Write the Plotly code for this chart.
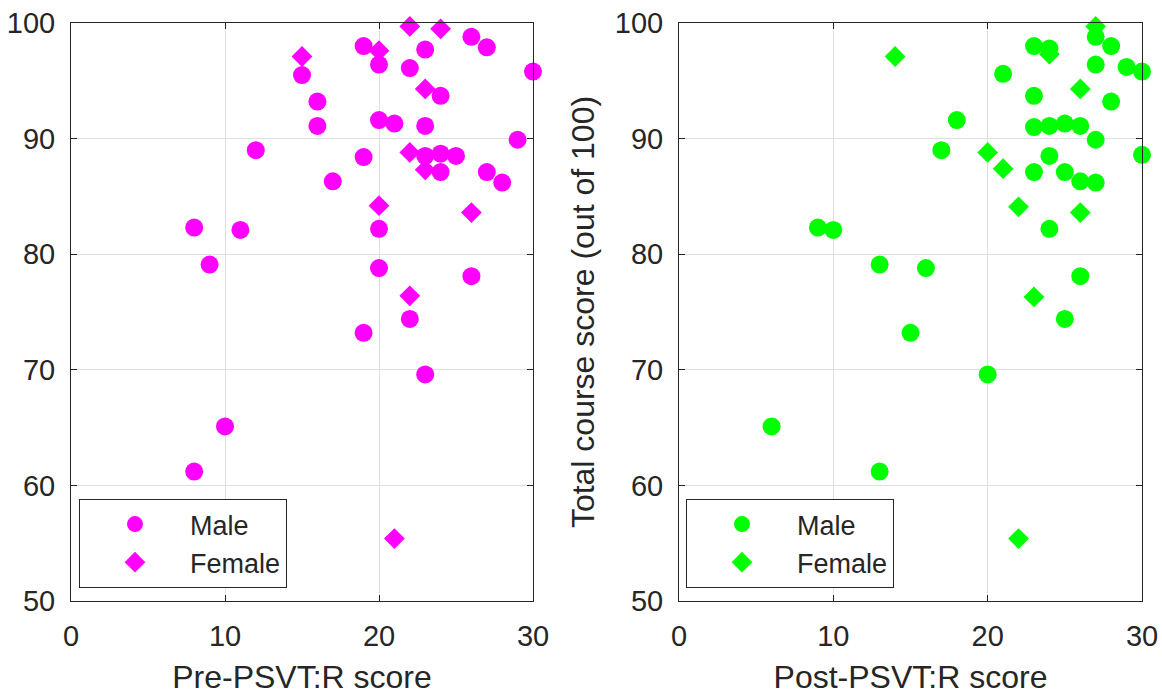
import plotly.graph_objects as go
from plotly.subplots import make_subplots

# ---- data ----
pre_male_x = [19, 20, 22, 23, 26, 27, 30, 15, 16, 16, 20, 21, 23, 24, 29, 12, 19, 23, 24, 25,
              24, 27, 28, 17, 8, 11, 20, 9, 20, 26, 22, 19, 23, 10, 8]
pre_male_y = [98.0, 96.4, 96.1, 97.7, 98.8, 97.9, 95.8, 95.5, 93.2, 91.1, 91.6, 91.3, 91.1, 93.7,
              89.9, 89.0, 88.4, 88.5, 88.7, 88.5, 87.1, 87.1, 86.2, 86.3, 82.3, 82.1, 82.2, 79.1,
              78.8, 78.1, 74.4, 73.2, 69.6, 65.1, 61.2]
pre_female_x = [22, 24, 15, 20, 23, 22, 23, 20, 26, 22, 21]
pre_female_y = [99.7, 99.5, 97.1, 97.6, 94.3, 88.8, 87.3, 84.2, 83.6, 76.4, 55.4]

post_male_x = [23, 24, 27, 28, 27, 29, 30, 21, 23, 28, 18, 23, 24, 25, 26, 27, 30, 17, 24, 23,
               25, 26, 27, 9, 10, 24, 13, 16, 26, 25, 15, 20, 6, 13]
post_male_y = [98.0, 97.8, 98.8, 98.0, 96.4, 96.2, 95.8, 95.6, 93.7, 93.2, 91.6, 91.0, 91.1, 91.3,
               91.1, 89.9, 88.6, 89.0, 88.5, 87.1, 87.1, 86.3, 86.2, 82.3, 82.1, 82.2, 79.1, 78.8,
               78.1, 74.4, 73.2, 69.6, 65.1, 61.2]
post_female_x = [14, 24, 27, 26, 20, 21, 22, 26, 23, 22]
post_female_y = [97.1, 97.3, 99.7, 94.3, 88.8, 87.4, 84.1, 83.6, 76.3, 55.4]

x_ticks = [0, 10, 20, 30]
y_ticks = [50, 60, 70, 80, 90, 100]
x_titles = ["Pre-PSVT:R score", "Post-PSVT:R score"]
y_title = "Total course score (out of 100)"
series_names = ["Male", "Female"]

MAGENTA = "#ff00ff"
GREEN = "#00ff00"
AX = "#262626"
FONT = "Liberation Sans, Arial, sans-serif"

fig = make_subplots(rows=1, cols=2)

fig.add_trace(go.Scatter(x=pre_male_x, y=pre_male_y, mode="markers", name=series_names[0],
                         marker=dict(symbol="circle", size=18, color=MAGENTA),
                         cliponaxis=False, legend="legend"), row=1, col=1)
fig.add_trace(go.Scatter(x=pre_female_x, y=pre_female_y, mode="markers", name=series_names[1],
                         marker=dict(symbol="diamond", size=16, color=MAGENTA),
                         cliponaxis=False, legend="legend"), row=1, col=1)
fig.add_trace(go.Scatter(x=post_male_x, y=post_male_y, mode="markers", name=series_names[0],
                         marker=dict(symbol="circle", size=18, color=GREEN),
                         cliponaxis=False, legend="legend2"), row=1, col=2)
fig.add_trace(go.Scatter(x=post_female_x, y=post_female_y, mode="markers", name=series_names[1],
                         marker=dict(symbol="diamond", size=16, color=GREEN),
                         cliponaxis=False, legend="legend2"), row=1, col=2)

W, H = 1162, 696
ml, mr, mt, mb = 71, 20, 23, 95
pw = W - ml - mr
left_dom = [0, (533 - ml) / pw]
right_dom = [(679 - ml) / pw, 1]

axis_common = dict(
    showline=True, linecolor=AX, linewidth=1, mirror="ticks",
    ticks="inside", ticklen=6, tickcolor=AX, tickwidth=1,
    showgrid=True, gridcolor="#e0e0e0", gridwidth=1, zeroline=False,
    tickfont=dict(family=FONT, size=29, color=AX), automargin=False,
    ticklabelstandoff=9,
)

for i, dom in enumerate([left_dom, right_dom], start=1):
    fig.update_xaxes(range=[0, 30], tickvals=x_ticks, domain=dom,
                     title=dict(text=x_titles[i - 1], font=dict(family=FONT, size=32, color=AX),
                                standoff=14),
                     row=1, col=i, **axis_common)
    fig.update_yaxes(range=[50, 100], tickvals=y_ticks, row=1, col=i, **axis_common)

fig.update_yaxes(title=dict(text=y_title, font=dict(family=FONT, size=32, color=AX), standoff=10),
                 row=1, col=2)

leg_common = dict(
    xanchor="left", yanchor="top", bgcolor="white", bordercolor=AX, borderwidth=1,
    font=dict(family=FONT, size=27, color=AX), itemwidth=100, tracegroupgap=0,
)
fig.update_layout(
    width=W, height=H,
    margin=dict(l=ml, r=mr, t=mt, b=mb, pad=0),
    paper_bgcolor="white", plot_bgcolor="white",
    font=dict(family=FONT, color=AX),
    legend=dict(x=(79 - ml) / pw, y=(601 - 499) / (H - mt - mb), **leg_common),
    legend2=dict(x=(686 - ml) / pw, y=(601 - 499) / (H - mt - mb), **leg_common),
)

fig.write_html("out.html", config={"displayModeBar": False},
               post_script="document.body.style.margin='0';")
